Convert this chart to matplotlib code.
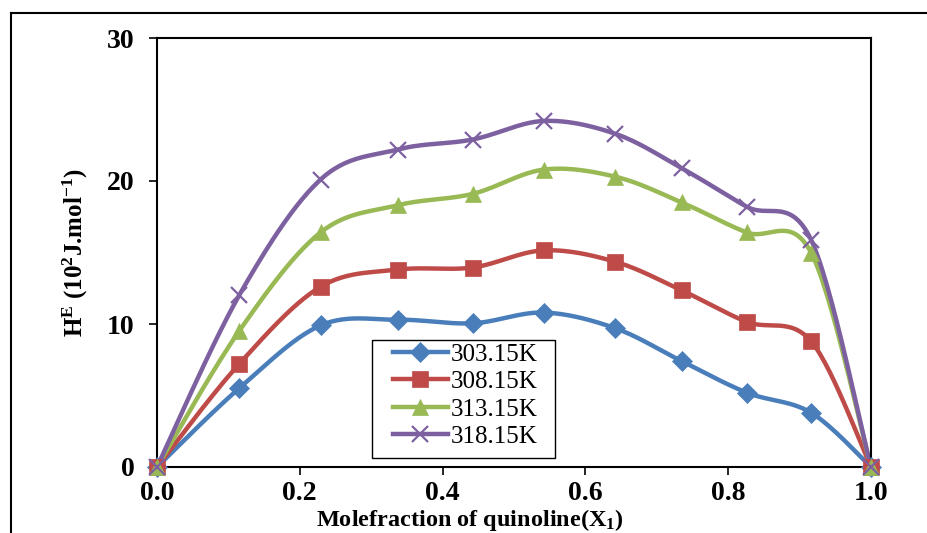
import numpy as np
import matplotlib
matplotlib.use("Agg")
import matplotlib.pyplot as plt
from matplotlib.lines import Line2D
from matplotlib.patches import Rectangle

x1 = [0.0, 0.115, 0.229, 0.337, 0.442, 0.542, 0.642, 0.735, 0.826, 0.916, 1.0]
he_303 = [0.0, 5.5, 9.9, 10.3, 10.05, 10.8, 9.7, 7.4, 5.2, 3.8, 0.0]
he_308 = [0.0, 7.2, 12.6, 13.8, 13.95, 15.15, 14.35, 12.35, 10.15, 8.8, 0.0]
he_313 = [0.0, 9.5, 16.4, 18.3, 19.1, 20.8, 20.3, 18.5, 16.4, 15.0, 0.0]
he_318 = [0.0, 12.0, 20.1, 22.2, 22.9, 24.2, 23.3, 20.9, 18.2, 15.9, 0.0]
labels = ["303.15K", "308.15K", "313.15K", "318.15K"]

colors = ["#4A7EBB", "#BE4B48", "#98B954", "#7D60A0"]
markers = ["D", "s", "^", "x"]
msizes = [10, 11, 11, 12]


def smooth(xs, ys, n=30):
    p = np.column_stack([xs, ys]).astype(float)
    pts = np.vstack([p[0], p, p[-1]])
    out = []
    t = np.linspace(0, 1, n)[:, None]
    for i in range(1, len(pts) - 2):
        p0, p1, p2, p3 = pts[i - 1], pts[i], pts[i + 1], pts[i + 2]
        c1 = p1 + (p2 - p0) / 6.0
        c2 = p2 - (p3 - p1) / 6.0
        seg = ((1 - t) ** 3) * p1 + 3 * ((1 - t) ** 2) * t * c1 + 3 * (1 - t) * t ** 2 * c2 + t ** 3 * p2
        out.append(seg)
    s = np.vstack(out)
    return s[:, 0], s[:, 1]


plt.rcParams["font.family"] = ["Liberation Serif", "DejaVu Serif"]
plt.rcParams["mathtext.fontset"] = "custom"
plt.rcParams["mathtext.rm"] = "Liberation Serif:bold"
plt.rcParams["mathtext.it"] = "Liberation Serif:bold"
plt.rcParams["mathtext.bf"] = "Liberation Serif:bold"

fig = plt.figure(figsize=(9.28, 5.33), dpi=100)
ax = fig.add_axes([157 / 928, 1 - 467 / 533, (871 - 157) / 928, (467 - 38) / 533])

series = [he_303, he_308, he_313, he_318]
for ys, c, m, ms, lab in zip(series, colors, markers, msizes, labels):
    sx, sy = smooth(x1, ys)
    ax.plot(sx, sy, color=c, lw=3.2, solid_capstyle="round", zorder=2)
    ax.plot(x1, ys, ls="none", marker=m, color=c, markersize=ms,
            markeredgewidth=1.6 if m == "x" else 0.5, zorder=3, clip_on=False)

handles = [Line2D([0], [0], color=c, lw=3.2, marker=m, markersize=ms,
                  markeredgewidth=1.6 if m == "x" else 0.5)
           for c, m, ms in zip(colors, markers, msizes)]
leg = ax.legend(handles, labels, loc="upper left", bbox_to_anchor=(0.3305, 0.289),
                fontsize=18, frameon=False,
                handlelength=2.2, handletextpad=0.1, borderpad=0.0, labelspacing=0.2,
                borderaxespad=0)
leg.set_zorder(6)
ax.add_patch(Rectangle((0.301, 0.021), 0.256, 0.275, transform=ax.transAxes,
                       facecolor="white", edgecolor="black", lw=1.0, zorder=5))

ax.set_xlim(0, 1.0)
ax.set_ylim(0, 30)
ax.set_xticks([0.0, 0.2, 0.4, 0.6, 0.8, 1.0])
ax.set_xticklabels(["0.0", "0.2", "0.4", "0.6", "0.8", "1.0"])
ax.set_yticks([0, 10, 20, 30])
ax.tick_params(direction="out", length=6, width=1.2, labelsize=20)
ax.tick_params(axis="y", pad=10)
ax.tick_params(axis="x", pad=4)
for lab in ax.get_xticklabels() + ax.get_yticklabels():
    lab.set_fontweight("bold")
for sp in ax.spines.values():
    sp.set_linewidth(1.5)

ax.set_xlabel("Molefraction of quinoline(X$_{1}$)", fontsize=17.5, fontweight="bold")
ax.xaxis.set_label_coords(0.438, -0.094)
ax.set_ylabel("H$^{E}$ (10$^{2}$J.mol$^{-1}$)", fontsize=18, fontweight="bold", labelpad=12)

fig.add_artist(Line2D([11 / 928, 11 / 928], [0, 1 - 13 / 533], color="black", lw=1.5, transform=fig.transFigure))
fig.add_artist(Line2D([11 / 928, 927 / 928], [1 - 13 / 533, 1 - 13 / 533], color="black", lw=1.5, transform=fig.transFigure))

fig.savefig("out.png", dpi=100)
